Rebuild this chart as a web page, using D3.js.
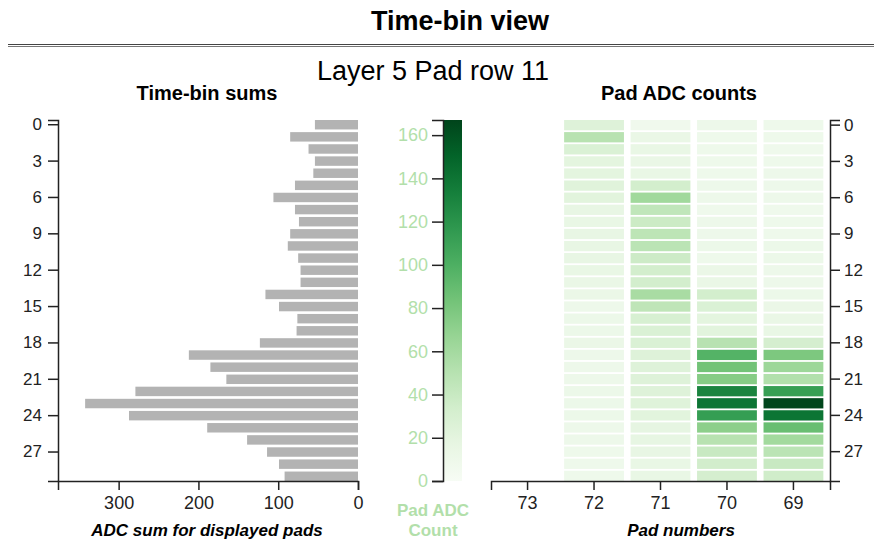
<!DOCTYPE html>
<html>
<head>
<meta charset="utf-8">
<script src="https://cdn.jsdelivr.net/npm/d3@7"></script>
<style>
  body { margin: 0; background: #fff; }
  svg text { font-family: "Liberation Sans", Arial, sans-serif; }
  .axis text { font-size: 17px; fill: #222; }
  .axis path, .axis line { stroke: #222; stroke-width: 1.5px; }
</style>
</head>
<body>
<div id="chart"></div>
<script>
// Time bins shown on both vertical axes
const timeBins = [0, 1, 2, 3, 4, 5, 6, 7, 8, 9, 10, 11, 12, 13, 14,
    15, 16, 17, 18, 19, 20, 21, 22, 23, 24, 25, 26, 27, 28, 29];
const binTicks = [0, 3, 6, 9, 12, 15, 18, 21, 24, 27];

// ADC sum per time bin (left bars)
const binSums = [54, 85, 62, 54, 56, 79, 106, 79, 74, 85, 88, 75, 72, 72, 116,
    99, 76, 77, 123, 212, 185, 165, 279, 342, 287, 189, 139, 114, 99, 92];
const sumTicks = [300, 200, 100, 0];

// Pad ADC counts per time bin (heatmap), pad 73 has no data
const pads = [73, 72, 71, 70, 69];
const pad73 = [];
const pad72 = [25, 50, 28, 20, 20, 23, 22, 16, 15, 16, 16, 16, 15, 14, 13,
    11, 12, 12, 13, 11, 11, 11, 12, 12, 12, 11, 11, 10, 10, 10];
const pad71 = [8, 14, 15, 14, 15, 33, 62, 45, 38, 47, 48, 37, 33, 33, 58,
    46, 30, 28, 28, 25, 25, 25, 25, 24, 22, 18, 17, 16, 15, 15];
const pad70 = [11, 10, 10, 10, 10, 11, 11, 9, 11, 11, 12, 10, 13, 14, 33,
    28, 20, 22, 50, 97, 84, 75, 130, 140, 113, 72, 50, 40, 34, 32];
const pad69 = [10, 10, 9, 10, 11, 11, 11, 9, 10, 10, 12, 12, 11, 11, 12,
    13, 14, 15, 32, 79, 64, 53, 112, 166, 140, 88, 61, 48, 40, 35];
const padValues = [pad73, pad72, pad71, pad70, pad69];
const countTicks = [0, 20, 40, 60, 80, 100, 120, 140, 160];
const countMax = 167;

const W = 874, H = 543;
const plotTop = 120, plotBottom = 481;
const labelGreen = '#b2dfaa';

const svg = d3.select('#chart').append('svg')
    .attr('width', W)
    .attr('height', H);

// Titles
svg.append('text')
    .attr('x', 460).attr('y', 30)
    .attr('text-anchor', 'middle')
    .style('font-size', '27px').style('font-weight', 'bold')
    .text('Time-bin view');

svg.append('line')
    .attr('x1', 8).attr('x2', W).attr('y1', 44.5).attr('y2', 44.5)
    .attr('stroke', '#444');
svg.append('line')
    .attr('x1', 8).attr('x2', W).attr('y1', 46.5).attr('y2', 46.5)
    .attr('stroke', '#777');

svg.append('text')
    .attr('x', 433).attr('y', 80)
    .attr('text-anchor', 'middle')
    .style('font-size', '27px')
    .text('Layer 5 Pad row 11');

svg.append('text')
    .attr('x', 207).attr('y', 100)
    .attr('text-anchor', 'middle')
    .style('font-size', '20px').style('font-weight', 'bold')
    .text('Time-bin sums');

svg.append('text')
    .attr('x', 679).attr('y', 100)
    .attr('text-anchor', 'middle')
    .style('font-size', '20px').style('font-weight', 'bold')
    .text('Pad ADC counts');

const color = d3.scaleSequential(d3.interpolateGreens).domain([0, countMax]);

// ---- Left: time-bin sums ----
const ySum = d3.scaleBand()
    .domain(timeBins)
    .range([plotTop, plotBottom])
    .paddingInner(0.22);

const xSum = d3.scaleLinear()
    .domain([376, 0])
    .range([58, 358]);

svg.append('g')
    .selectAll('rect')
    .data(binSums)
    .join('rect')
    .attr('x', d => xSum(d))
    .attr('y', (d, i) => ySum(timeBins[i]))
    .attr('width', d => xSum(0) - xSum(d))
    .attr('height', ySum.bandwidth())
    .attr('fill', '#b3b3b3');

svg.append('g')
    .attr('class', 'axis')
    .attr('transform', 'translate(58,0)')
    .call(d3.axisLeft(ySum).tickValues(binTicks).tickSize(10).tickPadding(6));

svg.append('g')
    .attr('class', 'axis')
    .attr('transform', `translate(0,${plotBottom})`)
    .call(d3.axisBottom(xSum).tickValues(sumTicks).tickSize(9).tickPadding(6))
    .selectAll('text').style('font-size', '18px');

svg.append('text')
    .attr('x', 207).attr('y', 536)
    .attr('text-anchor', 'middle')
    .style('font-size', '17px').style('font-weight', 'bold').style('font-style', 'italic')
    .text('ADC sum for displayed pads');

// ---- Middle: colour bar ----
const yCount = d3.scaleLinear()
    .domain([0, countMax])
    .range([plotBottom, plotTop]);

const grad = svg.append('defs').append('linearGradient')
    .attr('id', 'count-gradient')
    .attr('x1', 0).attr('x2', 0).attr('y1', 1).attr('y2', 0);

grad.selectAll('stop')
    .data(d3.range(0, 1.01, 0.1))
    .join('stop')
    .attr('offset', d => (d * 100) + '%')
    .attr('stop-color', d => color(d * countMax));

svg.append('rect')
    .attr('x', 443)
    .attr('y', yCount(countMax))
    .attr('width', 19)
    .attr('height', yCount(0) - yCount(countMax))
    .attr('fill', 'url(#count-gradient)');

const cbAxis = svg.append('g')
    .attr('class', 'axis')
    .attr('transform', 'translate(443,0)')
    .call(d3.axisLeft(yCount).tickValues(countTicks).tickSizeOuter(0).tickSize(11).tickPadding(4));
cbAxis.selectAll('text')
    .style('fill', labelGreen)
    .style('font-size', '18px');

svg.append('text')
    .attr('x', 433).attr('y', 516)
    .attr('text-anchor', 'middle')
    .style('font-size', '17px').style('font-weight', 'bold')
    .style('fill', labelGreen)
    .text('Pad ADC');
svg.append('text')
    .attr('x', 433).attr('y', 536)
    .attr('text-anchor', 'middle')
    .style('font-size', '17px').style('font-weight', 'bold')
    .style('fill', labelGreen)
    .text('Count');

// ---- Right: pad heatmap ----
const xPad = d3.scaleBand()
    .domain(pads)
    .range([491, 830])
    .paddingInner(0.1)
    .paddingOuter(0.1);

const yPad = d3.scaleBand()
    .domain(timeBins)
    .range([plotTop, plotBottom])
    .paddingInner(0.15);

const cells = [];
pads.forEach((p, j) => {
    padValues[j].forEach((v, i) => cells.push({pad: p, bin: timeBins[i], value: v}));
});

svg.append('g')
    .selectAll('rect')
    .data(cells)
    .join('rect')
    .attr('x', d => xPad(d.pad))
    .attr('y', d => yPad(d.bin))
    .attr('width', xPad.bandwidth())
    .attr('height', yPad.bandwidth())
    .attr('fill', d => color(d.value));

svg.append('g')
    .attr('class', 'axis')
    .attr('transform', `translate(0,${plotBottom})`)
    .call(d3.axisBottom(xPad).tickSize(9).tickPadding(6))
    .selectAll('text').style('font-size', '18px');

svg.append('g')
    .attr('class', 'axis')
    .attr('transform', 'translate(830,0)')
    .call(d3.axisRight(yPad).tickValues(binTicks).tickSize(10).tickPadding(4));

svg.append('text')
    .attr('x', 681).attr('y', 536)
    .attr('text-anchor', 'middle')
    .style('font-size', '17px').style('font-weight', 'bold').style('font-style', 'italic')
    .text('Pad numbers');
</script>
</body>
</html>
